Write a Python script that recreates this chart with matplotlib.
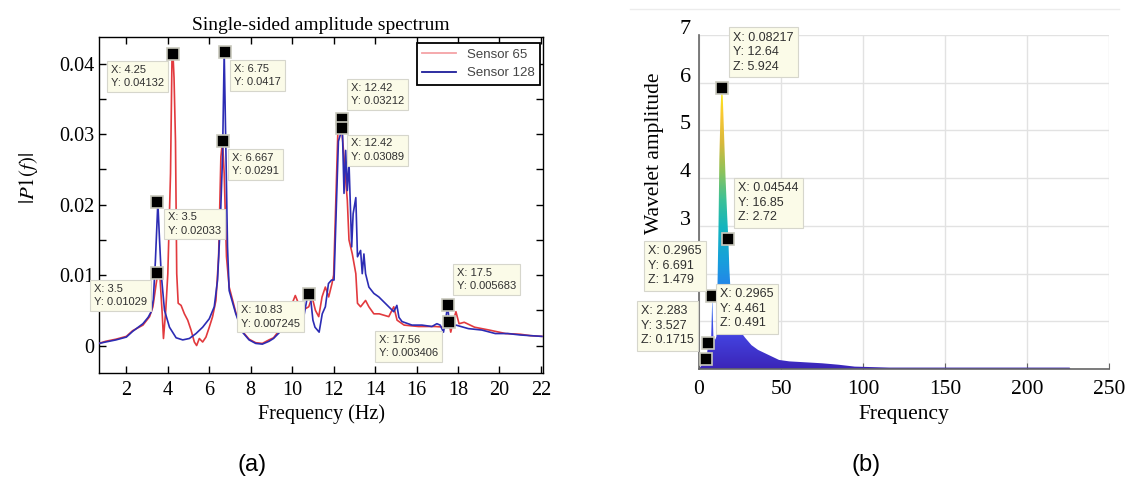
import numpy as np
import matplotlib.pyplot as plt
import matplotlib.transforms as mtransforms
from matplotlib.colors import LinearSegmentedColormap
from matplotlib.lines import Line2D

plt.rcParams['font.family'] = 'serif'
plt.rcParams['font.serif'] = ['Liberation Serif', 'DejaVu Serif']
plt.rcParams['mathtext.fontset'] = 'stix'

#######################################
# DATA (a) single-sided amplitude spectrum
#######################################
red_f = [0.68, 1.0, 1.5, 2.0, 2.3, 2.8, 3.12, 3.28, 3.44, 3.52, 3.63, 3.73, 3.79, 3.9, 4.0,
         4.13, 4.2, 4.25, 4.3, 4.37, 4.43, 4.5, 4.64, 4.8, 4.96, 5.12, 5.28, 5.39, 5.52, 5.68,
         5.84, 6.0, 6.16, 6.32, 6.45, 6.56, 6.64, 6.72, 6.83, 6.96, 7.28, 7.6, 7.92, 8.24, 8.56,
         8.88, 9.1, 9.6, 10.15, 10.3, 10.5, 10.8, 10.96, 11.12, 11.28, 11.44, 11.6, 11.76, 11.92,
         12.0, 12.1, 12.2, 12.35, 12.5, 12.58, 12.66, 12.74, 12.9, 13.07, 13.15, 13.3, 13.54,
         13.7, 13.94, 14.2, 14.66, 14.9, 15.06, 15.4, 16.1, 16.9, 17.38, 17.56, 17.65, 17.78,
         17.9, 18.05, 18.3, 18.8, 19.5, 20.3, 21.0, 21.5, 22.05]
red_p = [0.0003, 0.0006, 0.0009, 0.0013, 0.0021, 0.0029, 0.0041, 0.0055, 0.0088, 0.0103, 0.0093,
         0.0045, 0.0010, 0.0050, 0.0102, 0.0244, 0.0405, 0.0413, 0.0380, 0.0290, 0.0102, 0.0060,
         0.0057, 0.0045, 0.0036, 0.0022, 0.0005, 0.0000, 0.0010, 0.0005, 0.0012, 0.0026, 0.0041,
         0.0064, 0.0126, 0.0268, 0.0291, 0.0244, 0.0126, 0.0083, 0.0047, 0.0020, 0.0009, 0.0004,
         0.0003, 0.0008, 0.0011, 0.0030, 0.0071, 0.0060, 0.0050, 0.0055, 0.0069, 0.0050, 0.0041,
         0.0069, 0.0083, 0.0069, 0.0088, 0.0100, 0.0200, 0.0300, 0.0321, 0.0268, 0.0235, 0.0206,
         0.0150, 0.0130, 0.0102, 0.0060, 0.0055, 0.0064, 0.0055, 0.0045, 0.0045, 0.0041, 0.0055,
         0.0036, 0.0029, 0.0027, 0.0027, 0.0026, 0.0034, 0.0019, 0.0036, 0.0048, 0.0031, 0.0033,
         0.0026, 0.0022, 0.0017, 0.0016, 0.0014, 0.0013]

blue_f = [0.68, 1.0, 1.5, 2.0, 2.3, 2.8, 3.05, 3.2, 3.3, 3.4, 3.52, 3.6, 3.68, 3.84, 4.08, 4.4,
          4.72, 5.04, 5.36, 5.68, 6.0, 6.24, 6.4, 6.53, 6.64, 6.72, 6.8, 6.88, 6.96, 7.28, 7.6,
          7.92, 8.24, 8.56, 8.88, 9.1, 9.6, 10.2, 10.56, 10.75, 10.9, 11.0, 11.1, 11.3, 11.45,
          11.6, 11.75, 11.9, 12.02, 12.13, 12.23, 12.42, 12.5, 12.58, 12.66, 12.74, 12.87, 12.94,
          13.07, 13.15, 13.3, 13.38, 13.46, 13.54, 13.7, 13.94, 14.18, 14.66, 14.9, 15.05, 15.15,
          15.3, 15.78, 16.26, 16.74, 16.98, 17.14, 17.3, 17.42, 17.5, 17.6, 17.9, 18.5, 19.15,
          19.8, 20.4, 21.0, 21.5, 22.05]
blue_p = [0.0003, 0.0005, 0.0008, 0.0012, 0.0020, 0.0031, 0.0040, 0.0048, 0.0065, 0.0120, 0.0203,
          0.0150, 0.0102, 0.0050, 0.0026, 0.0011, 0.0008, 0.0010, 0.0017, 0.0026, 0.0038, 0.0055,
          0.0093, 0.0173, 0.0268, 0.0417, 0.0280, 0.0140, 0.0078, 0.0045, 0.0019, 0.0008, 0.0003,
          0.0002, 0.0006, 0.0010, 0.0025, 0.0050, 0.0041, 0.0072, 0.0064, 0.0036, 0.0026, 0.0019,
          0.0045, 0.0055, 0.0088, 0.0093, 0.0093, 0.0197, 0.0290, 0.0309, 0.0216, 0.0277, 0.0220,
          0.0260, 0.0140, 0.0187, 0.0210, 0.0126, 0.0135, 0.0102, 0.0130, 0.0102, 0.0083, 0.0074,
          0.0069, 0.0055, 0.0048, 0.0057, 0.0040, 0.0034, 0.0029, 0.0029, 0.0027, 0.0031, 0.0029,
          0.0019, 0.0040, 0.0057, 0.0025, 0.0029, 0.0024, 0.0022, 0.0017, 0.0017, 0.0015, 0.0014,
          0.0013]

tips_a_x = [4.25, 6.75, 6.667, 3.5, 3.5, 10.83, 12.42, 12.42, 17.5, 17.56]
tips_a_y = [0.04132, 0.0417, 0.0291, 0.02033, 0.01029, 0.007245, 0.03212, 0.03089, 0.005683, 0.003406]
tips_a_txt = ["X: 4.25\nY: 0.04132", "X: 6.75\nY: 0.0417", "X: 6.667\nY: 0.0291",
              "X: 3.5\nY: 0.02033", "X: 3.5\nY: 0.01029", "X: 10.83\nY: 0.007245",
              "X: 12.42\nY: 0.03212", "X: 12.42\nY: 0.03089", "X: 17.5\nY: 0.005683",
              "X: 17.56\nY: 0.003406"]
# where each data-tip box sits (top-left of text)
tips_a_pos = [(1.25, 0.0398), (7.21, 0.0400), (7.11, 0.0274), (3.99, 0.0189), (0.43, 0.0088),
              (7.54, 0.0057), (12.83, 0.0373), (12.83, 0.0294), (17.93, 0.0110), (14.18, 0.0015)]

#######################################
# DATA (b) wavelet amplitude
#######################################
wav_f = [0, 2, 3.3, 4.3, 5.0, 5.7, 6.5, 7.4, 8.1, 8.8, 10.0, 10.6, 11.3, 11.9, 12.4, 13.2, 13.8,
         14.5, 15.2, 16.2, 17.2, 17.9, 18.5, 19.3, 20.5, 22.5, 25, 28, 32, 36, 42.7, 48.8, 55,
         65, 75, 85, 95, 116, 150, 200, 226, 226.5]
wav_a = [0, 0.1, 0.2, 0.22, 0.35, 0.54, 0.6, 0.62, 1.52, 0.64, 0.62, 0.68, 1.8, 3.0, 4.4, 5.5,
         5.92, 5.7, 5.0, 4.0, 3.2, 2.72, 2.1, 1.6, 1.25, 1.0, 0.8, 0.66, 0.5, 0.4, 0.29, 0.19,
         0.16, 0.14, 0.12, 0.09, 0.05, 0.03, 0.03, 0.03, 0.03, 0]

tips_b_x = [13.8, 17.9, 8.1, 5.7, 4.3]
tips_b_y = [5.88, 2.72, 1.52, 0.54, 0.22]
tips_b_txt = ["X: 0.08217\nY: 12.64\nZ: 5.924", "X: 0.04544\nY: 16.85\nZ: 2.72",
              "X: 0.2965\nY: 6.691\nZ: 1.479", "X: 0.2965\nY: 4.461\nZ: 0.491",
              "X: 2.283\nY: 3.527\nZ: 0.1715"]
tips_b_pos = [(20.7, 7.07), (23.8, 3.92), (-31.1, 2.60), (12.8, 1.70), (-35.4, 1.34)]

parula = LinearSegmentedColormap.from_list('parula', [
    (0.00, '#3b25b8'), (0.12, '#4343e0'), (0.25, '#2a78f0'), (0.38, '#189fdc'),
    (0.50, '#12b5bf'), (0.60, '#3dc196'), (0.70, '#8ec35a'), (0.80, '#d8b93c'),
    (0.90, '#f9c832'), (1.00, '#f9f410')])

W, H = 1129, 482
fig = plt.figure(figsize=(W / 100, H / 100), dpi=100)


def px_axes(l, t, r, b):
    return fig.add_axes([l / W, 1 - b / H, (r - l) / W, (b - t) / H])


tip_box = dict(boxstyle='square,pad=0.35', fc='#fbfbe8', ec='#d6d6cc', lw=0.8)

#######################################
# (a)
#######################################
ax1 = px_axes(99, 37, 543, 373)
ax1.plot(red_f, red_p, color='#e23a3e', lw=1.2, zorder=3)
ax1.plot(blue_f, blue_p, color='#2c2cb4', lw=1.2, zorder=3)
ax1.plot(tips_a_x, tips_a_y, 's', ms=8, mfc='black', mec='#c8c8bc', mew=1.2, zorder=6, clip_on=False)
for (tx, ty), s in zip(tips_a_pos, tips_a_txt):
    ax1.text(tx, ty, s, ha='left', va='top', fontsize=8, family='Liberation Sans', color='#303030',
             linespacing=1.4, bbox=tip_box, zorder=7, clip_on=False)

ax1.set_xlim(0.68, 22.1)
ax1.set_ylim(-0.0039, 0.0438)
ax1.set_xticks(np.arange(2, 23, 2))
ax1.set_yticks([0, 0.01, 0.02, 0.03, 0.04])
ax1.set_yticklabels(['0', '0.01', '0.02', '0.03', '0.04'])
ax1.set_yticks(np.arange(0.005, 0.04, 0.01), minor=True)
ax1.tick_params(which='both', direction='in', top=True, right=True, length=5, labelsize=14.5, width=1)
ax1.tick_params(axis='x', pad=6)
for sp in ax1.spines.values():
    sp.set_linewidth(1.0)
ax1.set_title('Single-sided amplitude spectrum', fontsize=14, pad=5)
ax1.set_xlabel('Frequency (Hz)', fontsize=14.5, labelpad=3)
fig.text(28 / W, 1 - 178 / H, r'$|P\mathrm{1}(f)|$', rotation=90, fontsize=15, ha='center', va='center')

handles = [Line2D([], [], color='#f4a3a6', lw=1.3), Line2D([], [], color='#1e1e9a', lw=1.3)]
leg = ax1.legend(handles, ['Sensor 65', 'Sensor 128'], loc='upper right',
                 bbox_to_anchor=(1 - 3 / 444, 1 - 6 / 336), borderaxespad=0, fancybox=False,
                 framealpha=1, edgecolor='black', handlelength=2.6,
                 prop={'family': 'Liberation Sans', 'size': 9.5})
leg.get_frame().set_linewidth(1.3)
for t in leg.get_texts():
    t.set_color('#444444')

#######################################
# (b)
#######################################
ax2 = px_axes(699, 35, 1109, 369)
poly = ax2.fill_between(wav_f, 0, wav_a, facecolor='none', edgecolor='none')
img = ax2.imshow(np.linspace(0, 1, 256).reshape(-1, 1), extent=[0, 250, 0, max(wav_a)],
                 origin='lower', aspect='auto', cmap=parula, zorder=2, interpolation='bilinear')
img.set_clip_path(poly.get_paths()[0], transform=ax2.transData)
ax2.plot(tips_b_x, tips_b_y, 's', ms=8, mfc='black', mec='#c8c8bc', mew=1.2, zorder=6, clip_on=False)
for (tx, ty), s in zip(tips_b_pos, tips_b_txt):
    ax2.text(tx, ty, s, ha='left', va='top', fontsize=9, family='Liberation Sans', color='#303030',
             linespacing=1.3, bbox=tip_box, zorder=7, clip_on=False)

ax2.set_xlim(0, 250)
ax2.set_ylim(0, 7)
ax2.set_xticks(np.arange(0, 251, 50))
ax2.set_yticks(np.arange(0, 8, 1))
ax2.set_yticklabels(['', '', '', '3', '4', '5', '6', '7'])
ax2.grid(True, color='#e2e2e2', lw=1.0, zorder=0)
ax2.set_axisbelow(True)
ax2.spines['top'].set_visible(False)
ax2.spines['right'].set_visible(False)
ax2.spines['left'].set_color('#666666')
ax2.spines['bottom'].set_color('#666666')
ax2.spines['left'].set_linewidth(1.2)
ax2.spines['bottom'].set_linewidth(1.2)
ax2.tick_params(axis='y', length=0, labelsize=16, pad=6)
ax2.tick_params(axis='x', direction='in', length=4, color='#666666', labelsize=15.5, pad=8)
shift = mtransforms.ScaledTranslation(0, 8 / 100, fig.dpi_scale_trans)
for lab in ax2.get_yticklabels():
    lab.set_transform(lab.get_transform() + shift)
ax2.set_xlabel('Frequency', fontsize=15.5, labelpad=4)
fig.text(655 / W, 1 - 153 / H, 'Wavelet amplitude', rotation=90, fontsize=15.5, ha='center', va='center')
fig.add_artist(Line2D([630 / W, 1119 / W], [1 - 9 / H, 1 - 9 / H], color='#ececec', lw=1))

fig.text(252 / W, 1 - 465 / H, '(a)', fontsize=17, family='Liberation Sans', ha='center', va='center')
fig.text(866 / W, 1 - 465 / H, '(b)', fontsize=17, family='Liberation Sans', ha='center', va='center')

fig.savefig('out.png', dpi=100)
